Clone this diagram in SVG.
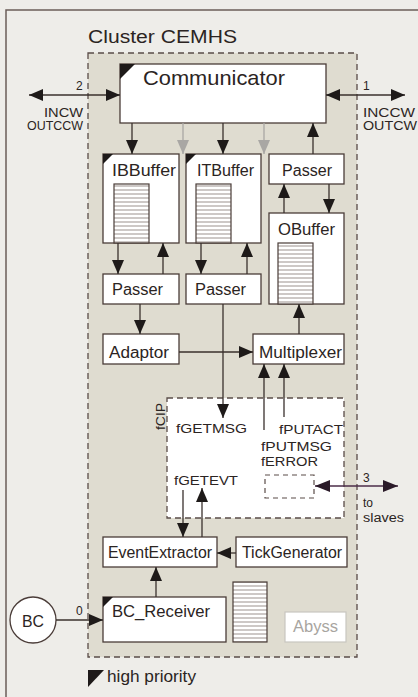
<svg xmlns="http://www.w3.org/2000/svg" width="418" height="697" viewBox="0 0 418 697">
<style>
text{font-family:"Liberation Sans",Arial,sans-serif;fill:#2b2422}
.box{fill:#fff;stroke:#4a3c38;stroke-width:1.3}
.lbl{font-size:16px}
.fl{font-size:13.5px}
.pt{font-size:12px}
.ln{stroke:#3a302d;stroke-width:1.3;fill:none}
.gl{stroke:#a9a7a4;stroke-width:1.3;fill:none}
.tri{fill:#1e1a19}
.stk{fill:url(#stripes);stroke:#4a3c38;stroke-width:1.2}
</style>
<defs>
<pattern id="stripes" patternUnits="userSpaceOnUse" width="8" height="4">
<rect width="8" height="4" fill="#fff"/>
<line x1="0" y1="2" x2="8" y2="2" stroke="#9c918d" stroke-width="1"/>
</pattern>
<marker id="ah" markerUnits="userSpaceOnUse" markerWidth="15" markerHeight="12" refX="14" refY="6" orient="auto-start-reverse">
<path d="M0,0 L14,6 L0,12 z" fill="#1e1a19"/>
</marker>
<marker id="ahg" markerUnits="userSpaceOnUse" markerWidth="15" markerHeight="12" refX="14" refY="6" orient="auto">
<path d="M0,0 L14,6 L0,12 z" fill="#a9a7a4"/>
</marker>
<marker id="ahp" markerUnits="userSpaceOnUse" markerWidth="16" markerHeight="12" refX="15" refY="6" orient="auto-start-reverse">
<path d="M0,0 L15,6 L0,12 z" fill="#2a1a28"/>
</marker>
</defs>
<rect width="418" height="697" fill="#eeede9"/>
<path d="M6,697 L6,10 L418,10" fill="none" stroke="#6b5d58" stroke-width="1.5"/>
<text x="88" y="43" font-size="18" textLength="149" lengthAdjust="spacingAndGlyphs">Cluster CEMHS</text>
<rect id="cluster" x="88" y="53" width="269" height="604" fill="#dfdcd0" stroke="#5a4c48" stroke-width="1.3" stroke-dasharray="6 4"/>

<g id="communicator"><rect class="box" x="120" y="64" width="206" height="59"/><path class="tri" d="M120,64 h15 L120,79 z"/><text x="143" y="85" font-size="21" textLength="142" lengthAdjust="spacingAndGlyphs">Communicator</text></g>
<g id="ibbuffer"><rect class="box" x="103" y="154" width="76" height="89"/><path class="tri" d="M103,154 h10 L103,164 z"/><text class="lbl" x="112" y="176" textLength="64" lengthAdjust="spacingAndGlyphs">IBBuffer</text><rect class="stk" x="114" y="184" width="35" height="59"/></g>
<g id="itbuffer"><rect class="box" x="186" y="154" width="75" height="89"/><path class="tri" d="M186,154 h10 L186,164 z"/><text class="lbl" x="197" y="176" textLength="57" lengthAdjust="spacingAndGlyphs">ITBuffer</text><rect class="stk" x="196" y="184" width="35" height="59"/></g>
<g id="passer-out"><rect class="box" x="269" y="154" width="75" height="30"/><text class="lbl" x="282" y="176" textLength="50" lengthAdjust="spacingAndGlyphs">Passer</text></g>
<g id="obuffer"><rect class="box" x="269" y="213" width="75" height="91"/><text class="lbl" x="278" y="235" textLength="57" lengthAdjust="spacingAndGlyphs">OBuffer</text><rect class="stk" x="278" y="243" width="35" height="61"/></g>
<g id="passer-ib"><rect class="box" x="103" y="274" width="76" height="30"/><text class="lbl" x="112" y="295" textLength="51" lengthAdjust="spacingAndGlyphs">Passer</text></g>
<g id="passer-it"><rect class="box" x="186" y="274" width="75" height="30"/><text class="lbl" x="195" y="295" textLength="51" lengthAdjust="spacingAndGlyphs">Passer</text></g>
<g id="adaptor"><rect class="box" x="103" y="334" width="76" height="30"/><text class="lbl" x="109" y="358" textLength="60" lengthAdjust="spacingAndGlyphs">Adaptor</text></g>
<g id="multiplexer"><rect class="box" x="253" y="334" width="91" height="30"/><text class="lbl" x="259" y="358" textLength="83" lengthAdjust="spacingAndGlyphs">Multiplexer</text></g>
<g id="fcip"><rect x="167" y="398" width="177" height="120" fill="#fff" stroke="#5a4c48" stroke-width="1.3" stroke-dasharray="6 4"/>
<text class="fl" transform="translate(165,430) rotate(-90)" textLength="27" lengthAdjust="spacingAndGlyphs">fCIP</text>
<text class="fl" x="176" y="433" textLength="71" lengthAdjust="spacingAndGlyphs">fGETMSG</text>
<text class="fl" x="279" y="434" textLength="64" lengthAdjust="spacingAndGlyphs">fPUTACT</text>
<text class="fl" x="261" y="451" textLength="71" lengthAdjust="spacingAndGlyphs">fPUTMSG</text>
<text class="fl" x="261" y="466" textLength="57" lengthAdjust="spacingAndGlyphs">fERROR</text>
<text class="fl" x="174" y="485" textLength="64" lengthAdjust="spacingAndGlyphs">fGETEVT</text>
<rect x="265" y="475" width="49" height="23" fill="#fff" stroke="#5a4c48" stroke-width="1.2" stroke-dasharray="5 4"/></g>
<g id="eventextractor"><rect class="box" x="103" y="537" width="114" height="30"/><text class="lbl" x="108" y="558" textLength="104" lengthAdjust="spacingAndGlyphs">EventExtractor</text></g>
<g id="tickgenerator"><rect class="box" x="236" y="537" width="111" height="30"/><text class="lbl" x="242" y="558" textLength="100" lengthAdjust="spacingAndGlyphs">TickGenerator</text></g>
<g id="bc_receiver"><rect class="box" x="103" y="597" width="123" height="45"/><path class="tri" d="M103,597 h10 L103,607 z"/><text class="lbl" x="112" y="617" textLength="98" lengthAdjust="spacingAndGlyphs">BC_Receiver</text></g>
<g id="stack"><rect class="stk" x="233" y="582" width="34" height="60"/></g>
<g id="abyss"><rect x="285" y="612" width="61" height="30" fill="#fff" stroke="#c9c6c0" stroke-width="1.2"/><text class="lbl" x="293" y="632" textLength="45" lengthAdjust="spacingAndGlyphs" style="fill:#a8a5a0">Abyss</text></g>
<g id="bc"><circle cx="33" cy="620" r="23" fill="#fff" stroke="#4a3c38" stroke-width="1.3"/><text class="lbl" x="22" y="627" textLength="22" lengthAdjust="spacingAndGlyphs">BC</text></g>
<g id="legend"><path class="tri" d="M88,670 h16 L88,687 z"/><text class="lbl" x="107" y="682" textLength="89" lengthAdjust="spacingAndGlyphs">high priority</text></g>

<g id="connectors">
<line class="ln" x1="29" y1="95" x2="120" y2="95" marker-start="url(#ah)" marker-end="url(#ah)"/>
<line class="ln" x1="326" y1="95" x2="405" y2="95" marker-start="url(#ah)" marker-end="url(#ah)"/>
<line class="ln" x1="132" y1="123" x2="132" y2="154" marker-end="url(#ah)"/>
<line class="gl" x1="183" y1="123" x2="183" y2="154" marker-end="url(#ahg)"/>
<line class="ln" x1="223" y1="123" x2="223" y2="154" marker-end="url(#ah)"/>
<line class="gl" x1="264" y1="123" x2="264" y2="154" marker-end="url(#ahg)"/>
<line class="ln" x1="313" y1="154" x2="313" y2="123" marker-end="url(#ah)"/>
<line class="ln" x1="284" y1="213" x2="284" y2="184" marker-end="url(#ah)"/>
<line class="ln" x1="329" y1="184" x2="329" y2="213" marker-end="url(#ah)"/>
<line class="ln" x1="118" y1="243" x2="118" y2="274" marker-end="url(#ah)"/>
<line class="ln" x1="163" y1="274" x2="163" y2="243" marker-end="url(#ah)"/>
<line class="ln" x1="201" y1="243" x2="201" y2="274" marker-end="url(#ah)"/>
<line class="ln" x1="247" y1="274" x2="247" y2="243" marker-end="url(#ah)"/>
<line class="ln" x1="140" y1="304" x2="140" y2="334" marker-end="url(#ah)"/>
<line class="ln" x1="179" y1="352" x2="253" y2="352" marker-end="url(#ah)"/>
<line class="ln" x1="299" y1="334" x2="299" y2="304" marker-end="url(#ah)"/>
<line class="ln" x1="223" y1="304" x2="223" y2="418" marker-end="url(#ah)"/>
<line class="ln" x1="264" y1="430" x2="264" y2="364" marker-end="url(#ah)"/>
<line class="ln" x1="284" y1="417" x2="284" y2="364" marker-end="url(#ah)"/>
<line class="ln" x1="183" y1="490" x2="183" y2="537" marker-end="url(#ah)"/>
<line class="ln" x1="202" y1="537" x2="202" y2="488" marker-end="url(#ah)"/>
<line class="ln" x1="236" y1="553" x2="217" y2="553" marker-end="url(#ah)"/>
<line class="ln" x1="156" y1="597" x2="156" y2="567" marker-end="url(#ah)"/>
<line class="ln" x1="56" y1="620" x2="103" y2="620" marker-end="url(#ah)"/>
<line x1="315" y1="486" x2="398" y2="486" stroke="#4b2d48" stroke-width="1.3" marker-start="url(#ahp)" marker-end="url(#ahp)"/>
</g>
<g id="port-labels">
<text class="pt" x="76" y="90">2</text>
<text class="pt" x="44" y="117" textLength="39" lengthAdjust="spacingAndGlyphs">INCW</text>
<text class="pt" x="27" y="130" textLength="56" lengthAdjust="spacingAndGlyphs">OUTCCW</text>
<text class="pt" x="363" y="90">1</text>
<text class="pt" x="363" y="117" textLength="52" lengthAdjust="spacingAndGlyphs">INCCW</text>
<text class="pt" x="363" y="130" textLength="54" lengthAdjust="spacingAndGlyphs">OUTCW</text>
<text class="pt" x="363" y="482">3</text>
<text class="pt" x="363" y="507">to</text>
<text class="pt" x="363" y="522" textLength="41" lengthAdjust="spacingAndGlyphs">slaves</text>
<text class="pt" x="76" y="615">0</text>
</g>
</svg>
